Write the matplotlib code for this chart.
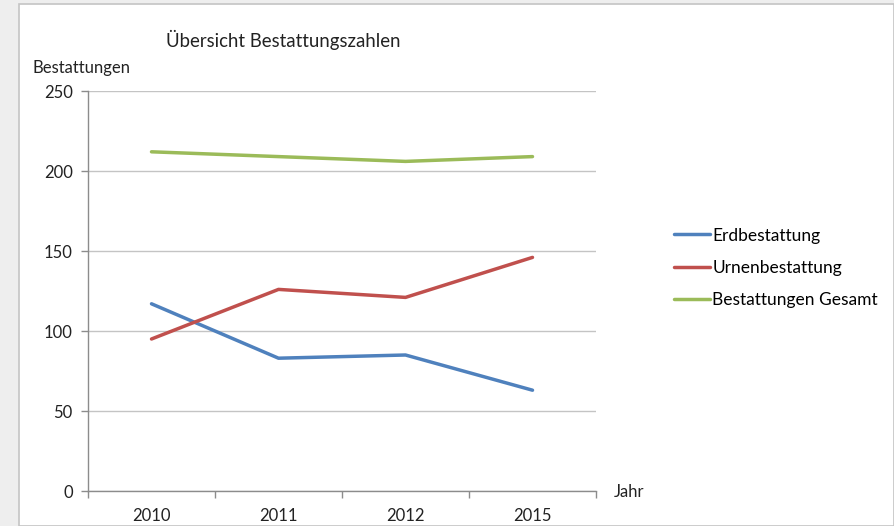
import matplotlib
matplotlib.use("Agg")
import matplotlib.pyplot as plt
from matplotlib.patches import Rectangle

plt.rcParams['font.family'] = ['Lato', 'DejaVu Sans']

# data
jahre = ['2010', '2011', '2012', '2015']
erd = [117, 83, 85, 63]
urnen = [95, 126, 121, 146]
gesamt = [212, 209, 206, 209]

W, H = 894, 526
fig = plt.figure(figsize=(W / 100, H / 100), dpi=100, facecolor='#eeeeee')

# white chart area with thin gray frame (behind the axes)
fig.patches.append(Rectangle((19 / W, 0), 1 - 19 / W, 1 - 4 / H, transform=fig.transFigure,
                             facecolor='white', edgecolor='#c4c4c4', lw=1.2, zorder=-10))

ax = fig.add_axes([88 / W, 1 - 491 / H, (596 - 88) / W, (491 - 91) / H])
ax.set_facecolor('none')

x = range(len(jahre))
ax.plot(x, erd, color='#4F81BD', lw=2.5, label='Erdbestattung', solid_capstyle='round')
ax.plot(x, urnen, color='#C0504D', lw=2.5, label='Urnenbestattung', solid_capstyle='round')
ax.plot(x, gesamt, color='#9BBB59', lw=2.5, label='Bestattungen Gesamt', solid_capstyle='round')

ax.set_xlim(-0.5, len(jahre) - 0.5)
ax.set_ylim(0, 250)
ax.set_yticks([0, 50, 100, 150, 200, 250])
ax.yaxis.grid(True, color='#c4c4c4', lw=1)
ax.set_axisbelow(True)

# category ticks sit between the categories, labels in the middle
ax.set_xticks([i - 0.5 for i in range(len(jahre) + 1)])
ax.set_xticklabels([])
ax.set_xticks(list(x), minor=True)
ax.set_xticklabels(jahre, minor=True)
ax.tick_params(axis='x', which='major', length=5, color='#8c8c8c', width=1)
ax.tick_params(axis='x', which='minor', length=0, pad=12, labelsize=12, colors='#222222')
ax.tick_params(axis='y', length=5, color='#8c8c8c', width=1, labelsize=12, colors='#222222', pad=6)

for s in ['top', 'right']:
    ax.spines[s].set_visible(False)
for s in ['left', 'bottom']:
    ax.spines[s].set_color('#8c8c8c')
    ax.spines[s].set_linewidth(1)

fig.text(283 / W, 1 - 40 / H, 'Übersicht Bestattungszahlen', ha='center', va='center',
         fontsize=13.4, color='#222222')
fig.text(33 / W, 1 - 68 / H, 'Bestattungen', ha='left', va='center', fontsize=12, color='#222222')
fig.text(614 / W, 1 - 492 / H, 'Jahr', ha='left', va='center', fontsize=12, color='#222222')

fig.legend(loc='center left', bbox_to_anchor=(674 / W, 1 - 268 / H), frameon=False,
           fontsize=12.5, handlelength=2.1, handletextpad=0.1, labelspacing=0.95,
           borderaxespad=0, borderpad=0)

fig.savefig('out.png', dpi=100, facecolor=fig.get_facecolor())
